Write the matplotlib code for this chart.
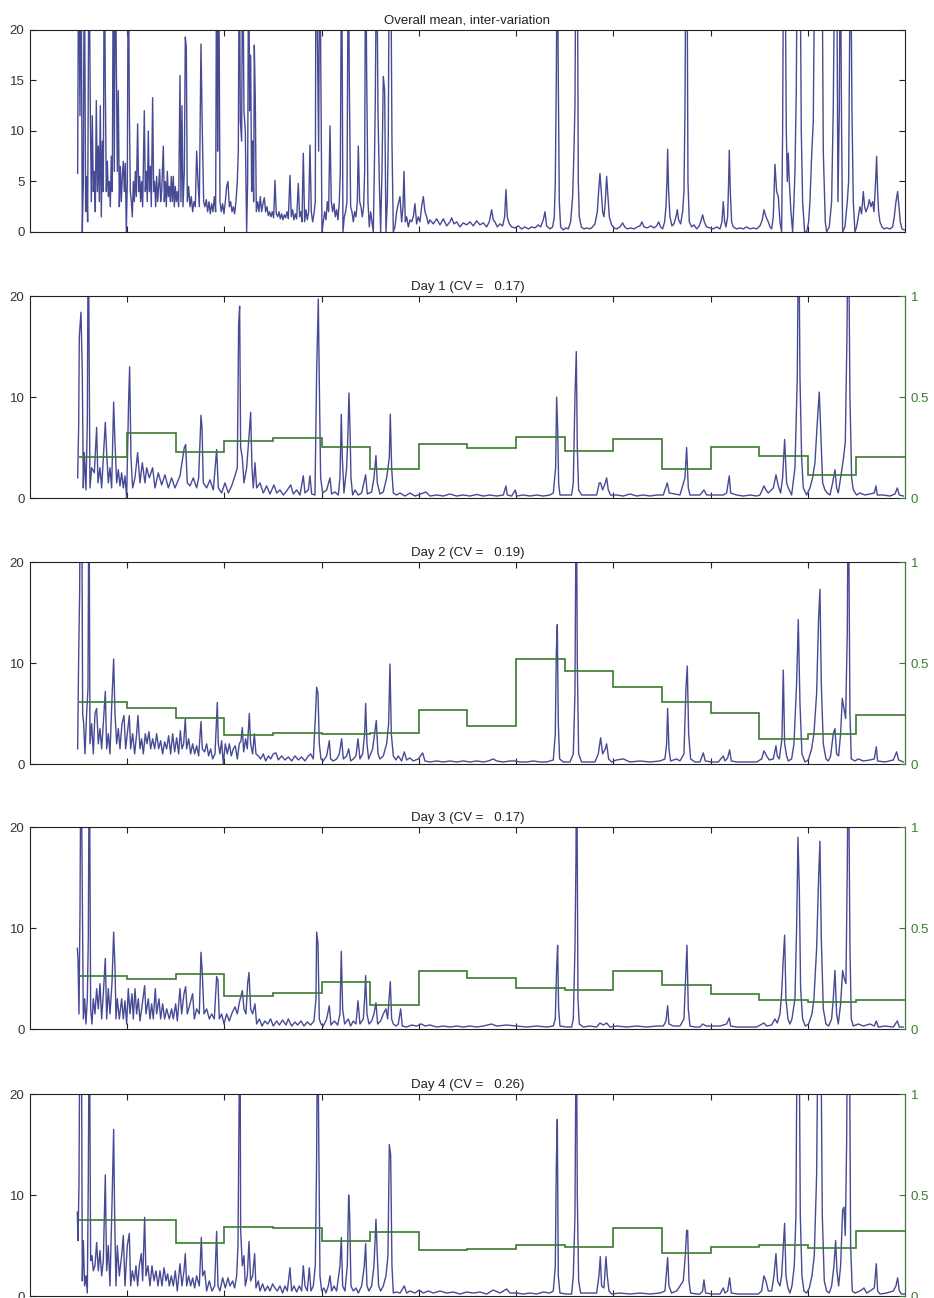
import numpy as np
import matplotlib
matplotlib.use('Agg')
import matplotlib.pyplot as plt

plt.rcParams['font.family'] = ['Liberation Sans', 'DejaVu Sans']

# scan axis (no labels shown), 9 tick intervals, 18 CV windows
n_scans = 2625
tick_scans = np.arange(1, 9) * n_scans / 9
window_edges = np.arange(1, 19) * n_scans / 18

titles = ['Overall mean, inter-variation',
          'Day 1 (CV =   0.17)', 'Day 2 (CV =   0.19)',
          'Day 3 (CV =   0.17)', 'Day 4 (CV =   0.26)']

# (scan, intensity); 30 = off scale
overall = [(143, 5.8), (146, 30), (150, 11.5), (153, 30), (157, 0), (160, 5), (163, 30), (167, 2), (170, 5.5),
           (173, 1), (177, 30), (181, 12), (184, 3), (187, 11.5), (190, 4), (193, 6), (196, 2), (199, 13),
           (202, 4), (205, 8.5), (208, 3), (211, 12.5), (214, 1.5), (217, 9), (220, 4), (223, 30), (226, 14.5),
           (229, 4), (232, 7), (235, 3.5), (238, 5), (241, 2.5), (244, 7.5), (247, 4), (250, 30), (253, 6),
           (256, 30), (259, 17), (262, 6), (265, 14), (268, 2.5), (271, 6.5), (274, 3), (277, 5.5), (280, 7),
           (283, 4), (286, 6.8), (289, 0), (292, 5), (295, 30), (298, 12.5), (301, 4), (304, 3), (307, 1.5),
           (310, 5), (313, 3), (316, 6), (319, 3.5), (323, 10.7), (326, 4), (329, 5.5), (332, 3), (335, 5),
           (338, 2.5), (343, 12), (346, 4), (349, 6), (352, 3), (355, 10), (358, 4), (361, 6.5), (364, 2.5),
           (368, 13.3), (371, 4), (374, 5), (377, 2.5), (380, 5.5), (383, 3), (386, 4.5), (389, 6.2), (392, 3),
           (395, 4), (400, 8.5), (403, 3), (406, 5), (409, 2.5), (412, 6), (415, 3.5), (418, 4.5), (421, 3),
           (424, 5.5), (427, 3), (430, 5.5), (433, 2.5), (436, 4.5), (439, 3), (442, 4), (446, 2.5), (450, 15.5),
           (453, 3), (456, 12.5), (459, 2.5), (463, 6), (466, 19.3), (469, 18.3), (472, 3), (476, 4.5), (480, 2.5),
           (484, 3.5), (488, 2), (492, 3), (496, 2.5), (500, 8), (504, 5), (508, 2.5), (513, 18.6), (517, 10),
           (521, 3), (525, 2.5), (529, 3.2), (533, 2), (537, 3), (541, 1.8), (545, 2.8), (549, 2), (553, 3.5),
           (557, 2), (560, 30), (563, 8), (566, 30), (570, 3), (574, 2), (578, 2.8), (582, 1.8), (586, 3),
           (590, 4.5), (594, 5), (598, 2.5), (602, 3), (606, 2), (610, 2.5), (614, 1.8), (618, 3), (622, 5),
           (625, 8), (628, 30), (631, 11), (635, 9), (638, 30), (642, 12), (646, 10), (650, 0), (653, 5),
           (656, 30), (659, 12), (662, 17.5), (665, 4), (668, 9), (671, 3), (673, 18.5), (676, 13), (679, 2),
           (683, 3), (687, 2), (691, 3.5), (695, 2), (699, 2.8), (703, 3.4), (707, 2), (711, 2.5), (715, 1.6),
           (719, 2), (723, 1.5), (727, 2), (731, 1.4), (735, 5.1), (739, 1.8), (743, 1.5), (747, 2), (751, 1.3),
           (755, 1.8), (759, 1.2), (763, 1.7), (767, 1.4), (771, 2), (775, 1.3), (780, 5.6), (784, 1.5),
           (788, 2.2), (792, 1.2), (796, 1.8), (800, 1.3), (805, 4.8), (809, 1.5), (813, 2), (816, 1), (820, 7.8),
           (824, 1), (828, 2.2), (832, 1.2), (836, 2), (840, 8.6), (844, 2), (848, 1), (852, 1.8), (856, 3),
           (858, 30), (862, 20), (866, 8), (869, 30), (872, 18.5), (876, 0), (880, 1), (884, 2), (888, 1.2),
           (892, 3), (896, 2), (900, 10.5), (904, 3), (908, 2), (912, 2.8), (916, 1.5), (920, 2.2), (924, 1.2),
           (928, 3), (931, 6), (935, 30), (939, 0), (943, 1.5), (947, 2), (951, 3), (955, 30), (958, 14.8),
           (962, 2.5), (966, 2), (970, 1), (974, 2), (978, 1.5), (982, 3), (985, 8.5), (989, 3), (993, 2.5),
           (997, 1.5), (1001, 2.5), (1004, 6), (1007, 30), (1010, 16), (1014, 3), (1018, 0.5), (1022, 2),
           (1026, 1), (1030, 0), (1033, 6), (1036, 13), (1040, 30), (1044, 12), (1048, 5), (1052, 0), (1056, 6),
           (1060, 15.4), (1064, 14), (1068, 0), (1072, 3), (1075, 9.5), (1078, 30), (1082, 30), (1086, 9),
           (1090, 0), (1095, 0.5), (1100, 2), (1105, 2.8), (1110, 3.5), (1115, 1), (1119, 2.5), (1122, 6),
           (1126, 1), (1130, 1.5), (1135, 0.5), (1140, 1.2), (1145, 1), (1150, 1.5), (1155, 2.8), (1160, 0.8),
           (1165, 1.5), (1170, 1), (1175, 2.5), (1180, 3.5), (1185, 2), (1190, 1.5), (1195, 0.8), (1200, 1.2),
           (1210, 0.8), (1220, 1.3), (1230, 0.7), (1240, 1.3), (1250, 0.6), (1260, 1), (1265, 1.4), (1272, 0.8),
           (1280, 1), (1290, 0.5), (1300, 0.9), (1310, 0.7), (1320, 1), (1330, 0.6), (1340, 1.1), (1350, 0.7),
           (1360, 0.9), (1370, 0.5), (1378, 1), (1385, 2.2), (1390, 1.2), (1395, 1), (1402, 0.5), (1410, 0.8),
           (1418, 0.6), (1424, 1.5), (1428, 4.2), (1432, 1.5), (1438, 0.8), (1445, 0.5), (1455, 0.4), (1465, 0.6),
           (1475, 0.3), (1485, 0.5), (1495, 0.3), (1505, 0.5), (1515, 0.4), (1525, 0.7), (1532, 0.5), (1540, 1.2),
           (1545, 2), (1550, 0.6), (1560, 0.3), (1568, 0.5), (1573, 1.5), (1576, 5), (1579, 15), (1582, 30),
           (1585, 15), (1588, 3), (1592, 0.5), (1600, 0.2), (1608, 0.4), (1615, 0.3), (1622, 1), (1628, 3.5),
           (1632, 8), (1635, 12.5), (1638, 30), (1642, 30), (1645, 5), (1648, 1.5), (1654, 0.5), (1662, 0.3),
           (1670, 0.4), (1680, 0.3), (1688, 0.5), (1695, 0.8), (1702, 2), (1706, 4), (1710, 5.8), (1714, 4),
           (1718, 2), (1722, 1.5), (1726, 3), (1730, 5.5), (1734, 3.5), (1738, 1.5), (1745, 0.7), (1752, 0.4),
           (1760, 0.3), (1770, 0.5), (1778, 0.9), (1784, 0.5), (1792, 0.3), (1802, 0.4), (1812, 0.3), (1822, 0.5),
           (1830, 0.6), (1836, 1), (1842, 0.5), (1852, 0.4), (1862, 0.6), (1872, 0.4), (1880, 0.6), (1886, 1),
           (1892, 0.5), (1898, 0.3), (1904, 1), (1908, 2.5), (1911, 5), (1913, 8.2), (1916, 4), (1920, 1.5),
           (1926, 0.6), (1932, 0.8), (1938, 1.5), (1942, 2.2), (1946, 1.2), (1952, 0.8), (1958, 2), (1962, 4),
           (1965, 12), (1968, 30), (1971, 30), (1974, 5), (1978, 1), (1985, 0.5), (1992, 0.7), (2000, 0.3),
           (2008, 0.6), (2014, 1.2), (2018, 1.7), (2023, 1), (2030, 0.5), (2040, 0.4), (2050, 0.3), (2060, 0.5),
           (2070, 0.3), (2076, 1), (2080, 3), (2084, 1), (2088, 0.5), (2093, 1.5), (2096, 5), (2098, 8.1),
           (2101, 4), (2105, 1), (2110, 0.5), (2120, 0.3), (2130, 0.4), (2140, 0.3), (2150, 0.5), (2160, 0.3),
           (2170, 0.4), (2180, 0.3), (2190, 0.6), (2197, 1.2), (2202, 2.2), (2208, 1.5), (2215, 1), (2220, 0.5),
           (2225, 0.3), (2230, 1.5), (2235, 6.7), (2240, 4), (2245, 3.5), (2250, 1), (2255, 0), (2258, 10),
           (2261, 30), (2265, 30), (2269, 10), (2272, 5), (2275, 7.8), (2278, 5), (2283, 2), (2288, 0), (2292, 3),
           (2295, 6), (2299, 14), (2302, 30), (2306, 22), (2310, 30), (2314, 10), (2318, 3), (2324, 0), (2330, 0),
           (2336, 1), (2340, 3), (2345, 7.5), (2350, 11), (2355, 30), (2365, 30), (2372, 25), (2376, 30),
           (2380, 8), (2386, 1), (2390, 0), (2398, 0.5), (2405, 3), (2410, 12.5), (2415, 30), (2420, 30),
           (2424, 3), (2428, 12), (2431, 30), (2435, 10), (2438, 0), (2445, 0.5), (2452, 3), (2456, 5),
           (2459, 20), (2462, 30), (2466, 12), (2470, 3), (2475, 0), (2480, 0.5), (2485, 1.5), (2490, 2.5),
           (2495, 1.8), (2500, 4), (2504, 2.5), (2508, 2), (2514, 2.5), (2518, 3.2), (2523, 2.5), (2528, 3),
           (2532, 2), (2537, 5), (2540, 7.5), (2543, 4), (2546, 2), (2550, 1), (2556, 0.5), (2562, 0.3),
           (2570, 0.4), (2580, 0.3), (2588, 0.5), (2593, 1.5), (2598, 3), (2603, 4), (2607, 2.5), (2611, 1),
           (2616, 0.3), (2623, 0.2)]

day1 = [(143, 2), (146, 7), (148, 16), (153, 18.4), (157, 12.3), (160, 1), (163, 4.5), (168, 0.8), (172, 7.5),
        (175, 30), (177, 17), (180, 1), (185, 3), (193, 2.5), (200, 7), (204, 1.5), (210, 3), (215, 1),
        (226, 7.5), (230, 4.5), (235, 1.5), (240, 3), (245, 1), (251, 9.5), (255, 5.5), (260, 1.5), (265, 2.8),
        (270, 1.2), (275, 2.5), (280, 1), (285, 2.2), (290, 0), (296, 9.8), (299, 13), (303, 4), (308, 1),
        (315, 2), (323, 4.5), (330, 1.5), (337, 3.5), (345, 1.5), (350, 3), (358, 2), (368, 3), (375, 1),
        (385, 2.5), (395, 1.3), (405, 2.3), (415, 1), (425, 2), (435, 1), (450, 2.2), (463, 5), (467, 5.3),
        (472, 1.5), (480, 1.2), (490, 2), (500, 1), (506, 2), (513, 8.2), (516, 7), (520, 1.5), (530, 1),
        (540, 1.8), (550, 0.8), (560, 4.8), (565, 1), (575, 0.5), (585, 1.5), (595, 0.5), (605, 1.2),
        (615, 2.2), (622, 3), (626, 17.2), (629, 19), (632, 5), (637, 4), (642, 1.5), (650, 3), (658, 6.5),
        (662, 8.5), (666, 3), (670, 1), (675, 3.5), (680, 1), (690, 1.5), (700, 0.5), (710, 1.2), (720, 0.4),
        (732, 1.3), (740, 0.5), (750, 0.8), (760, 0.3), (770, 0.7), (782, 1.3), (790, 0.4), (800, 0.8),
        (810, 0.3), (820, 2.2), (825, 0.5), (835, 0.8), (840, 2.2), (845, 0.4), (855, 0.3), (860, 12.5),
        (865, 19.7), (868, 11.4), (872, 2), (878, 0.5), (890, 0.8), (900, 2), (905, 0.4), (915, 0.6),
        (925, 0.3), (930, 2), (934, 8.3), (937, 4), (942, 0.5), (950, 3), (954, 6.5), (957, 10.4), (960, 7),
        (963, 2), (968, 0.3), (975, 0.8), (985, 0.3), (995, 0.5), (1007, 2.3), (1012, 0.4), (1025, 0.6),
        (1032, 2), (1038, 4.2), (1042, 1.5), (1050, 0.4), (1060, 0.6), (1070, 2), (1078, 4), (1081, 8.3),
        (1085, 3), (1090, 0.5), (1100, 0.3), (1110, 0.5), (1125, 0.2), (1140, 0.5), (1155, 0.2), (1172, 0.4),
        (1188, 0.6), (1200, 0.2), (1220, 0.3), (1240, 0.2), (1260, 0.4), (1280, 0.2), (1300, 0.3), (1320, 0.2),
        (1340, 0.35), (1360, 0.2), (1380, 0.3), (1400, 0.2), (1420, 0.3), (1428, 1.2), (1432, 0.3), (1445, 0.2),
        (1456, 0.8), (1460, 0.2), (1480, 0.3), (1500, 0.2), (1520, 0.3), (1540, 0.2), (1560, 0.3), (1570, 0.5),
        (1577, 3), (1580, 10), (1583, 7), (1586, 1.5), (1590, 0.3), (1610, 0.3), (1625, 0.3), (1630, 1.5),
        (1635, 10), (1639, 14.5), (1642, 5), (1646, 0.8), (1655, 0.3), (1680, 0.3), (1700, 0.3), (1708, 1.5),
        (1712, 1.5), (1718, 0.8), (1726, 1.5), (1730, 2), (1735, 0.8), (1742, 0.3), (1760, 0.3), (1780, 0.2),
        (1800, 0.4), (1820, 0.2), (1840, 0.3), (1860, 0.2), (1880, 0.3), (1900, 0.3), (1912, 1.5), (1918, 0.5),
        (1935, 0.4), (1950, 0.3), (1965, 2), (1970, 5), (1975, 1), (1980, 0.3), (2000, 0.3), (2010, 0.3),
        (2022, 0.8), (2030, 0.3), (2050, 0.3), (2070, 0.3), (2080, 0.3), (2090, 0.5), (2098, 2.2), (2102, 0.5),
        (2120, 0.3), (2140, 0.2), (2160, 0.3), (2180, 0.2), (2190, 0.3), (2202, 1.2), (2208, 0.8), (2215, 0.5),
        (2230, 1), (2238, 2.3), (2245, 1.2), (2252, 0.5), (2258, 2), (2264, 5.8), (2270, 1.5), (2275, 1),
        (2285, 0.3), (2295, 3), (2302, 12), (2306, 30), (2310, 12), (2315, 4), (2320, 1), (2330, 0.3),
        (2340, 1), (2348, 2), (2355, 3.5), (2362, 7.5), (2368, 10.5), (2373, 6), (2378, 1.5), (2385, 0.8),
        (2392, 0.5), (2400, 0.3), (2408, 1.5), (2415, 2.8), (2420, 1), (2425, 0.5), (2432, 2), (2440, 3.8),
        (2446, 5.5), (2451, 16), (2455, 30), (2460, 10), (2465, 2), (2470, 0.8), (2480, 0.3), (2490, 0.5),
        (2505, 0.3), (2520, 0.4), (2533, 0.5), (2538, 1.2), (2542, 0.3), (2560, 0.3), (2580, 0.2), (2595, 0.4),
        (2602, 1), (2608, 0.3), (2620, 0.2)]

day2 = [(143, 1.5), (146, 10.5), (149, 17), (151, 30), (155, 30), (158, 5), (161, 4), (165, 1), (170, 5),
        (174, 7.5), (177, 30), (180, 2), (185, 4), (190, 1), (195, 5), (200, 5.5), (205, 2), (210, 3.5),
        (215, 1.5), (220, 4), (226, 7.2), (230, 1.5), (235, 3), (240, 1), (246, 6.5), (251, 10.4), (255, 5),
        (260, 2), (265, 3.5), (270, 1.5), (276, 4), (282, 4.8), (287, 1.5), (292, 3), (298, 4.8), (302, 1.5),
        (308, 3), (314, 1), (320, 3), (324, 4.8), (330, 1.5), (335, 2.5), (340, 1), (346, 3), (351, 2),
        (357, 3.2), (362, 1.5), (368, 2.5), (374, 1.5), (380, 3), (386, 1.5), (392, 2.3), (398, 1), (404, 2.2),
        (410, 1.5), (416, 2.8), (422, 1), (428, 3), (434, 1.2), (440, 2.6), (446, 1), (451, 3.3), (456, 1.5),
        (461, 2), (466, 4.5), (470, 1.5), (476, 2.5), (482, 1), (488, 2), (494, 1), (500, 1.8), (506, 0.8),
        (513, 4.2), (517, 1.5), (524, 1.2), (530, 2), (536, 0.8), (542, 1.5), (548, 0.5), (555, 1), (562, 6.1),
        (565, 2), (570, 1), (575, 2.3), (580, 0), (586, 2), (592, 1), (598, 2), (604, 0.8), (610, 1.5),
        (616, 1.8), (622, 0.5), (628, 2), (633, 2.3), (637, 3.6), (641, 1.2), (647, 2.5), (652, 1.5), (658, 5),
        (662, 2), (668, 1), (673, 3), (678, 1), (685, 0.8), (692, 0.5), (700, 1), (707, 0.3), (715, 0.8),
        (722, 0.5), (730, 1), (738, 1.1), (745, 0.4), (755, 0.8), (765, 0.4), (775, 0.7), (785, 0.3),
        (795, 0.8), (805, 0.4), (815, 0.7), (825, 0.3), (835, 0.8), (842, 1), (850, 0.5), (856, 4.5),
        (860, 7.6), (864, 7), (868, 2), (873, 0.5), (880, 0.3), (890, 0.8), (898, 2.3), (902, 0.5), (910, 0.3),
        (920, 0.5), (928, 1), (935, 2.5), (940, 0.5), (950, 0.8), (956, 1.5), (962, 0.3), (970, 0.5),
        (978, 0.8), (984, 2.5), (990, 0.5), (998, 1), (1004, 3), (1007, 6), (1011, 2), (1016, 0.5), (1022, 1),
        (1028, 1.5), (1034, 3), (1039, 4.3), (1044, 1), (1050, 0.5), (1060, 0.8), (1070, 2), (1076, 4),
        (1080, 9.9), (1084, 3), (1090, 0.8), (1098, 0.4), (1105, 0.8), (1115, 0.3), (1123, 1.2), (1130, 0.4),
        (1140, 0.6), (1150, 0.3), (1165, 0.5), (1178, 1.1), (1185, 0.3), (1200, 0.2), (1220, 0.3), (1240, 0.2),
        (1260, 0.3), (1280, 0.2), (1300, 0.3), (1320, 0.2), (1340, 0.3), (1360, 0.2), (1375, 0.3), (1390, 0.5),
        (1400, 0.3), (1420, 0.2), (1440, 0.3), (1455, 0.3), (1470, 0.2), (1490, 0.2), (1510, 0.3), (1530, 0.2),
        (1550, 0.2), (1570, 0.4), (1576, 3), (1579, 11), (1582, 13.8), (1585, 4), (1589, 0.5), (1600, 0.2),
        (1620, 0.2), (1630, 1), (1635, 7), (1639, 30), (1642, 10), (1646, 1), (1655, 0.2), (1675, 0.2),
        (1695, 0.2), (1705, 1), (1712, 2.6), (1718, 1), (1726, 1.5), (1730, 2), (1736, 0.5), (1745, 0.2),
        (1760, 0.4), (1780, 0.5), (1800, 0.2), (1830, 0.3), (1860, 0.2), (1890, 0.3), (1905, 0.5), (1910, 2),
        (1913, 5.5), (1917, 1.5), (1922, 0.3), (1940, 0.5), (1950, 0.3), (1962, 1), (1968, 7.5), (1972, 9.7),
        (1976, 3), (1982, 0.5), (1995, 0.2), (2010, 0.2), (2020, 1.1), (2026, 0.3), (2045, 0.2), (2065, 0.2),
        (2080, 0.8), (2085, 0.3), (2093, 0.6), (2099, 1.4), (2104, 0.3), (2120, 0.2), (2150, 0.2), (2180, 0.2),
        (2195, 0.5), (2202, 1.3), (2210, 0.8), (2218, 0.4), (2230, 0.5), (2238, 1.8), (2242, 0.8), (2248, 0.5),
        (2256, 2.5), (2260, 9.3), (2264, 2), (2270, 0.8), (2275, 0.3), (2285, 0.5), (2292, 2), (2300, 8),
        (2305, 14.3), (2310, 6), (2316, 1), (2325, 0.2), (2335, 0.4), (2345, 1.5), (2352, 3), (2360, 7),
        (2366, 14.5), (2370, 17.3), (2374, 8), (2380, 2), (2388, 0.5), (2395, 0.3), (2402, 0.8), (2410, 3),
        (2415, 3.5), (2420, 1), (2426, 0.8), (2432, 3), (2437, 6.5), (2442, 5.5), (2447, 4.5), (2452, 13),
        (2455, 30), (2460, 5), (2464, 0.5), (2475, 0.3), (2485, 0.5), (2500, 0.3), (2520, 0.4), (2533, 0.5),
        (2539, 1.7), (2543, 0.3), (2565, 0.2), (2590, 0.4), (2600, 1.2), (2606, 0.4), (2620, 0.2)]

day3 = [(142, 8), (144, 7), (147, 1.5), (150, 11.5), (153, 30), (157, 13), (160, 1), (164, 3), (168, 0.5),
        (172, 3), (175, 9), (178, 30), (182, 2), (186, 0.5), (190, 3), (195, 1.5), (200, 4), (205, 2),
        (210, 4.5), (215, 1), (220, 3.5), (226, 7), (230, 1), (235, 4), (240, 1.5), (246, 4.5), (251, 9.6),
        (255, 6.2), (258, 1), (262, 3), (268, 1), (275, 3), (280, 1), (285, 2.8), (290, 0.5), (295, 4),
        (300, 1.5), (306, 3.5), (310, 1), (315, 4), (320, 1.5), (325, 3), (330, 0.8), (335, 2), (344, 4.3),
        (348, 1.5), (355, 3), (360, 1), (365, 2.5), (370, 1), (376, 4), (380, 1.5), (387, 3), (392, 1),
        (398, 2.5), (404, 1), (410, 2), (418, 1), (425, 2), (430, 1), (437, 2.5), (442, 0.8), (450, 4),
        (455, 1.5), (462, 3.5), (467, 4.2), (472, 1.5), (480, 2.5), (488, 3.5), (493, 1), (500, 2), (508, 1.5),
        (513, 7.6), (517, 5.5), (522, 1.5), (530, 2), (538, 1), (545, 1.5), (553, 1), (560, 5.2), (564, 4.8),
        (568, 1), (575, 1.5), (582, 0.5), (590, 1.5), (598, 0.8), (605, 1.5), (615, 2.2), (622, 1.5),
        (628, 2.6), (637, 3.8), (642, 2), (648, 1.5), (653, 4.5), (657, 5.6), (662, 2), (668, 1.5), (675, 2.5),
        (680, 0.5), (688, 1), (696, 0.3), (705, 0.8), (713, 0.5), (722, 1), (730, 0.3), (740, 0.8), (748, 0.4),
        (758, 0.9), (768, 0.4), (775, 1), (785, 0.3), (795, 0.7), (803, 0.4), (813, 0.8), (822, 0.3),
        (832, 0.7), (842, 0.4), (852, 0.8), (858, 3), (860, 9.6), (864, 8.5), (868, 1), (873, 0.5), (880, 0.3),
        (890, 1), (898, 2.3), (903, 0.4), (913, 0.8), (923, 0.4), (930, 1.5), (934, 7.7), (938, 2), (944, 0.5),
        (955, 1), (962, 0.3), (970, 0.8), (978, 0.5), (984, 2.8), (990, 0.5), (1000, 1), (1004, 3),
        (1007, 5.3), (1011, 1.5), (1017, 0.5), (1025, 0.8), (1032, 1.5), (1038, 2.6), (1043, 0.5),
        (1052, 0.8), (1060, 1.5), (1068, 2), (1073, 1), (1081, 4.7), (1085, 1), (1090, 0.5), (1098, 0.3),
        (1105, 0.5), (1112, 2), (1117, 0.3), (1130, 0.2), (1145, 0.4), (1160, 0.3), (1175, 0.5), (1185, 0.3),
        (1200, 0.4), (1220, 0.2), (1240, 0.3), (1260, 0.2), (1280, 0.3), (1300, 0.2), (1320, 0.3), (1340, 0.2),
        (1360, 0.3), (1385, 0.5), (1400, 0.3), (1430, 0.4), (1460, 0.3), (1490, 0.2), (1520, 0.3), (1550, 0.2),
        (1570, 0.3), (1576, 1), (1580, 6), (1583, 8.3), (1586, 2), (1590, 0.3), (1610, 0.2), (1625, 0.2),
        (1630, 1), (1635, 8), (1638, 16.7), (1640, 30), (1644, 3), (1648, 0.5), (1660, 0.2), (1680, 0.3),
        (1700, 0.2), (1710, 0.6), (1720, 0.4), (1730, 0.6), (1740, 0.2), (1760, 0.3), (1790, 0.2), (1820, 0.3),
        (1850, 0.2), (1880, 0.3), (1900, 0.3), (1908, 0.8), (1913, 2.3), (1917, 0.5), (1930, 0.3), (1950, 0.3),
        (1962, 1), (1967, 5), (1971, 8.3), (1975, 2), (1980, 0.3), (1995, 0.2), (2010, 0.2), (2018, 0.5),
        (2030, 0.3), (2050, 0.3), (2070, 0.3), (2090, 0.5), (2098, 1.1), (2102, 0.3), (2120, 0.2), (2150, 0.2),
        (2180, 0.2), (2202, 0.6), (2210, 0.3), (2225, 0.4), (2235, 1), (2242, 0.6), (2250, 1.5), (2255, 3.5),
        (2260, 7), (2264, 9.3), (2268, 3), (2274, 1), (2280, 0.5), (2286, 1), (2295, 3), (2300, 10),
        (2304, 19), (2308, 14), (2312, 4), (2318, 1), (2326, 0.3), (2336, 0.5), (2346, 1.5), (2352, 3),
        (2360, 8), (2366, 15), (2370, 18.6), (2374, 9), (2380, 2), (2388, 0.5), (2396, 0.3), (2405, 1),
        (2410, 3), (2415, 5.8), (2420, 1.5), (2425, 0.5), (2432, 2.5), (2438, 5.8), (2443, 5), (2448, 4.5),
        (2452, 16), (2455, 30), (2460, 8), (2464, 1), (2470, 0.3), (2485, 0.5), (2500, 0.3), (2520, 0.5),
        (2533, 0.3), (2539, 0.8), (2545, 0.2), (2565, 0.3), (2590, 0.2), (2602, 0.8), (2608, 0.2), (2620, 0.2)]

day4 = [(142, 8.3), (144, 5.5), (147, 11), (150, 30), (154, 30), (157, 1.5), (160, 5.5), (164, 1), (168, 2),
        (172, 0.3), (175, 11.8), (178, 30), (182, 3.5), (186, 4), (190, 2.5), (195, 3), (200, 5.3), (205, 2.5),
        (210, 4.5), (215, 2), (220, 3.5), (226, 12), (230, 2.5), (235, 5), (240, 1), (246, 9), (251, 16.5),
        (254, 8), (258, 1), (262, 5), (268, 2), (275, 4), (280, 6), (285, 1), (292, 5), (298, 6.2), (302, 1),
        (307, 2.5), (313, 1.5), (318, 3), (323, 1), (328, 3), (334, 4.2), (338, 1.5), (344, 7.8), (348, 2),
        (354, 3), (360, 1), (366, 3), (372, 1.5), (378, 2.5), (384, 1), (390, 2.5), (396, 1), (402, 2.8),
        (408, 1.5), (413, 2.2), (418, 1), (424, 2), (430, 1), (436, 2.5), (442, 0.5), (450, 3.2), (456, 1),
        (462, 2.5), (466, 4.2), (470, 1), (476, 2), (482, 1), (488, 1.8), (494, 0.8), (500, 2), (508, 1),
        (514, 5.8), (518, 2), (524, 2.5), (530, 0.5), (538, 1.5), (546, 0.5), (554, 1), (560, 6.4), (564, 1),
        (570, 0.5), (578, 1.8), (586, 0.8), (594, 1.8), (600, 1), (608, 1.5), (614, 0.8), (620, 2), (624, 5),
        (627, 18), (630, 30), (632, 6.5), (637, 3), (642, 4), (646, 1), (652, 2), (657, 5.4), (662, 1.5),
        (668, 2), (674, 4.2), (678, 0.8), (685, 1.5), (690, 0.5), (698, 1.2), (705, 0.5), (713, 1), (720, 0.5),
        (728, 1.2), (735, 0.8), (742, 0.5), (750, 1), (758, 0.3), (765, 1), (772, 0.5), (780, 2.8), (785, 0.5),
        (792, 1), (800, 0.4), (808, 1), (815, 0.5), (820, 3), (825, 1), (832, 0.5), (838, 2.8), (843, 0.5),
        (850, 1), (856, 3), (860, 13.7), (863, 30), (866, 17), (870, 2), (875, 0.5), (882, 0.8), (888, 0.3),
        (895, 1), (900, 2), (905, 0.5), (912, 1), (920, 0.5), (930, 3), (934, 5.8), (938, 1), (945, 0.5),
        (952, 3), (956, 10), (959, 8), (963, 1), (970, 0.5), (978, 0.8), (985, 0.3), (995, 1), (1003, 3),
        (1007, 5.2), (1011, 1), (1017, 0.5), (1025, 1), (1032, 3), (1038, 7.6), (1042, 4), (1046, 1),
        (1052, 0.5), (1060, 1), (1068, 2), (1074, 4), (1078, 15), (1082, 14), (1086, 3), (1090, 0.3),
        (1100, 0.4), (1110, 0.3), (1123, 1), (1130, 0.3), (1140, 0.5), (1155, 0.3), (1168, 0.6), (1180, 0.3),
        (1195, 0.5), (1210, 0.3), (1230, 0.5), (1250, 0.3), (1270, 0.4), (1290, 0.2), (1310, 0.4), (1330, 0.3),
        (1350, 0.4), (1370, 0.2), (1390, 0.6), (1410, 0.3), (1430, 0.7), (1440, 0.3), (1460, 0.3), (1480, 0.2),
        (1500, 0.3), (1520, 0.2), (1540, 0.4), (1560, 0.3), (1570, 0.5), (1576, 3), (1579, 12.8), (1582, 17.5),
        (1585, 2), (1590, 0.3), (1610, 0.2), (1625, 0.2), (1630, 2), (1635, 8), (1639, 30), (1642, 10),
        (1646, 1.5), (1652, 0.3), (1675, 0.3), (1700, 0.3), (1707, 2), (1711, 3.9), (1715, 1), (1722, 0.8),
        (1728, 3.9), (1732, 2), (1737, 0.5), (1745, 0.2), (1770, 0.3), (1800, 0.2), (1830, 0.3), (1860, 0.2),
        (1890, 0.3), (1905, 0.5), (1910, 2.5), (1913, 3.8), (1917, 1), (1925, 0.3), (1940, 0.5), (1950, 1),
        (1960, 1.5), (1966, 4), (1970, 6.5), (1973, 6.5), (1977, 1.5), (1982, 0.3), (2000, 0.2), (2010, 0.2),
        (2018, 0.5), (2022, 1.6), (2027, 0.3), (2045, 0.2), (2070, 0.2), (2080, 0.8), (2085, 0.3), (2093, 0.5),
        (2099, 1.8), (2104, 0.3), (2125, 0.2), (2160, 0.2), (2185, 0.2), (2195, 0.5), (2202, 2), (2208, 1.5),
        (2215, 0.5), (2225, 0.5), (2232, 2), (2238, 4.2), (2243, 1.5), (2250, 1), (2255, 2), (2260, 5),
        (2264, 7.2), (2268, 2), (2274, 0.8), (2280, 0.3), (2286, 1), (2293, 3), (2298, 8), (2302, 30),
        (2307, 30), (2311, 8), (2316, 2), (2322, 0.5), (2330, 0.3), (2338, 0.8), (2346, 2), (2353, 4),
        (2360, 12), (2365, 30), (2372, 30), (2377, 8), (2383, 1.5), (2390, 0.5), (2398, 0.3), (2405, 1),
        (2412, 3), (2417, 5.5), (2421, 2.5), (2426, 1), (2432, 3), (2438, 8.5), (2442, 8.8), (2446, 6),
        (2450, 15), (2453, 30), (2458, 30), (2462, 5), (2467, 0.5), (2475, 0.3), (2490, 0.5), (2502, 0.8),
        (2510, 0.3), (2520, 0.5), (2533, 0.8), (2539, 3.2), (2543, 0.5), (2550, 0.2), (2570, 0.3), (2590, 0.5),
        (2598, 1), (2603, 1.8), (2608, 0.5), (2615, 0.2), (2623, 0.2)]

# CV per window (right axis), 17 windows
cv_day1 = [0.205, 0.32, 0.228, 0.283, 0.295, 0.255, 0.142, 0.27, 0.248, 0.303, 0.233, 0.29, 0.142, 0.255,
           0.208, 0.112, 0.205]
cv_day2 = [0.308, 0.275, 0.228, 0.142, 0.155, 0.147, 0.153, 0.265, 0.188, 0.52, 0.462, 0.38, 0.308, 0.255,
           0.125, 0.147, 0.243]
cv_day3 = [0.263, 0.247, 0.275, 0.162, 0.178, 0.232, 0.117, 0.287, 0.253, 0.202, 0.193, 0.287, 0.217, 0.172,
           0.142, 0.132, 0.142]
cv_day4 = [0.378, 0.378, 0.263, 0.34, 0.335, 0.273, 0.318, 0.227, 0.235, 0.253, 0.245, 0.337, 0.212, 0.245,
           0.253, 0.237, 0.32]

traces = [overall, day1, day2, day3, day4]
cvs = [None, cv_day1, cv_day2, cv_day3, cv_day4]

trace_color = '#474a94'
cv_color = '#3c7a31'
frame_color = '#222222'

fig = plt.figure(figsize=(9.34, 12.98), dpi=100)
panel_bottoms = [0.8213, 0.6163, 0.4114, 0.2072, 0.0015]

for i in range(5):
    ax = fig.add_axes([0.0321, panel_bottoms[i], 0.9368, 0.1556])
    scans = [p[0] for p in traces[i]]
    vals = [p[1] for p in traces[i]]
    ax.plot(scans, vals, color=trace_color, lw=1.0)
    ax.set_xlim(0, n_scans)
    ax.set_ylim(0, 20)
    ax.set_xticks(tick_scans)
    ax.set_xticklabels([])
    if i == 0:
        ax.set_yticks([0, 5, 10, 15, 20])
    else:
        ax.set_yticks([0, 10, 20])
    ax.tick_params(direction='in', length=4, top=True, bottom=True, right=(i == 0),
                   labelsize=9.5, colors=frame_color, labelcolor='#333333', pad=4)
    for s in ax.spines.values():
        s.set_color(frame_color)
        s.set_linewidth(0.8)
    ax.set_title(titles[i], fontsize=9.5, pad=4.5, color='#222222')

    if cvs[i] is not None:
        ax2 = ax.twinx()
        ax2.stairs(cvs[i], window_edges, baseline=None, color=cv_color, lw=1.2)
        ax2.set_ylim(0, 1)
        ax2.set_yticks([0, 0.5, 1])
        ax2.set_yticklabels(['0', '0.5', '1'])
        ax2.tick_params(direction='in', length=4, labelsize=9.5, colors=cv_color, pad=4)
        for name in ['top', 'bottom', 'left']:
            ax2.spines[name].set_visible(False)
        ax2.spines['right'].set_color(cv_color)
        ax2.spines['right'].set_linewidth(0.8)

fig.savefig('out.png', dpi=100)
